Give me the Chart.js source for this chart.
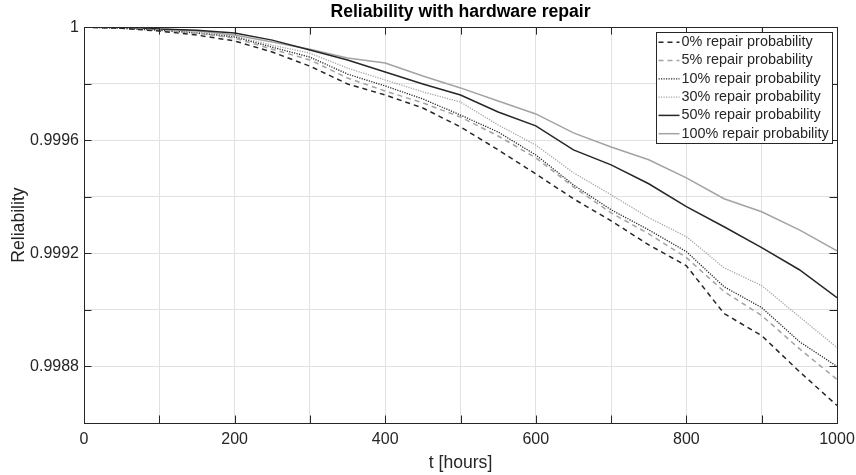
<!DOCTYPE html>
<html>
<head>
<meta charset="utf-8">
<title>Reliability with hardware repair</title>
<script src="https://cdn.jsdelivr.net/npm/chart.js@4.4.1/dist/chart.umd.min.js"></script>
<style>
  html, body { margin: 0; padding: 0; background: #fff; }
</style>
</head>
<body>
<canvas id="relChart" width="856" height="475"></canvas>
<script>
// data, t in hours
var hours = [0, 50, 100, 150, 200, 250, 300, 350, 400, 450, 500, 550, 600, 650, 700, 750, 800, 850, 900, 950, 1000];

var repair0 = [1.000000, 0.999996, 0.999986, 0.999972, 0.999951, 0.999912, 0.999862, 0.999799, 0.999760, 0.999714, 0.999647,
               0.999566, 0.999481, 0.999393, 0.999315, 0.999230, 0.999156, 0.998987, 0.998909, 0.998782, 0.998662];
var repair5 = [1.000000, 0.999996, 0.999989, 0.999979, 0.999961, 0.999922, 0.999884, 0.999820, 0.999774, 0.999732, 0.999682,
               0.999615, 0.999538, 0.999435, 0.999343, 0.999269, 0.999185, 0.999065, 0.998980, 0.998863, 0.998754];
var repair10 = [1.000000, 0.999996, 0.999989, 0.999979, 0.999965, 0.999929, 0.999894, 0.999834, 0.999792, 0.999746, 0.999689,
                0.999629, 0.999548, 0.999442, 0.999354, 0.999283, 0.999206, 0.999082, 0.999008, 0.998888, 0.998800];
var repair30 = [1.000000, 0.999996, 0.999989, 0.999982, 0.999968, 0.999936, 0.999908, 0.999855, 0.999813, 0.999771, 0.999735,
                0.999654, 0.999583, 0.999485, 0.999407, 0.999326, 0.999259, 0.999149, 0.999086, 0.998976, 0.998867];
var repair50 = [1.000000, 1.000000, 0.999993, 0.999989, 0.999979, 0.999954, 0.999919, 0.999884, 0.999841, 0.999799, 0.999760,
                0.999700, 0.999651, 0.999566, 0.999513, 0.999446, 0.999365, 0.999294, 0.999220, 0.999142, 0.999043];
var repair100 = [1.000000, 1.000000, 0.999993, 0.999986, 0.999972, 0.999947, 0.999922, 0.999891, 0.999873, 0.999827, 0.999785,
                 0.999739, 0.999693, 0.999626, 0.999576, 0.999531, 0.999467, 0.999393, 0.999347, 0.999283, 0.999209];

var seriesNames = ["0% repair probability", "5% repair probability", "10% repair probability",
                   "30% repair probability", "50% repair probability", "100% repair probability"];

var xTickLabels = [0, 200, 400, 600, 800, 1000];
var yTickLabels = [1, 0.9996, 0.9992, 0.9988];

var dark = "#262626";
var light = "#a3a3a3";

Chart.defaults.font.family = "'Liberation Sans', Arial, Helvetica, sans-serif";
Chart.defaults.color = dark;

function toPoints(values){
    var pts = [];
    for (var i = 0; i < hours.length; i++) {
        pts.push({x: hours[i], y: values[i]});
    }
    return pts;
}

function makeSet(name, values, color, dash, width){
    return {
        label: name,
        data: toPoints(values),
        borderColor: color,
        borderDash: dash,
        borderWidth: width,
        pointRadius: 0,
        tension: 0,
        fill: false
    };
}

// matlab style box, inward ticks and legend
var axesBox = {
    id: "axesBox",
    afterDraw: function(chart){
        var ctx = chart.ctx;
        var a = chart.chartArea;
        var xs = chart.scales.x;
        var ys = chart.scales.y;
        var tl = 7.5;

        ctx.save();
        ctx.strokeStyle = dark;
        ctx.lineWidth = 1;
        ctx.setLineDash([]);
        ctx.beginPath();
        xs.ticks.forEach(function(t){
            var px = Math.round(xs.getPixelForValue(t.value)) + 0.5;
            ctx.moveTo(px, a.bottom); ctx.lineTo(px, a.bottom - tl);
            ctx.moveTo(px, a.top); ctx.lineTo(px, a.top + tl);
        });
        ys.ticks.forEach(function(t){
            var py = Math.round(ys.getPixelForValue(t.value)) + 0.5;
            ctx.moveTo(a.left, py); ctx.lineTo(a.left + tl, py);
            ctx.moveTo(a.right, py); ctx.lineTo(a.right - tl, py);
        });
        ctx.stroke();
        ctx.strokeRect(Math.round(a.left) + 0.5, Math.round(a.top) + 0.5,
                       Math.round(a.right - a.left), Math.round(a.bottom - a.top));

        // legend
        var bw = 176, bh = 111;
        var bx = Math.round(a.right) - 5 - bw + 0.5;
        var by = Math.round(a.top) + 5 + 0.5;
        ctx.fillStyle = "#fff";
        ctx.fillRect(bx, by, bw, bh);
        ctx.strokeStyle = dark;
        ctx.lineWidth = 1;
        ctx.strokeRect(bx, by, bw, bh);

        ctx.font = "14.4px 'Liberation Sans', Arial, Helvetica, sans-serif";
        ctx.textBaseline = "middle";
        ctx.textAlign = "left";
        chart.data.datasets.forEach(function(ds, i){
            var ry = by + 9.7 + i * 18.3;
            ctx.strokeStyle = ds.borderColor;
            ctx.lineWidth = ds.borderWidth;
            ctx.setLineDash(ds.borderDash);
            ctx.beginPath();
            ctx.moveTo(bx + 2, ry);
            ctx.lineTo(bx + 23, ry);
            ctx.stroke();
            ctx.setLineDash([]);
            ctx.fillStyle = dark;
            ctx.fillText(ds.label, bx + 25, ry);
        });
        ctx.restore();
    }
};

function hasTick(list, value){
    for (var i = 0; i < list.length; i++) {
        if (Math.abs(list[i] - value) < 1e-9) return list[i];
    }
    return null;
}

var relChart = new Chart(document.getElementById("relChart"), {
    type: "line",
    data: {
        datasets: [
            makeSet(seriesNames[0], repair0, dark, [5, 4], 1.5),
            makeSet(seriesNames[1], repair5, light, [5, 4], 1.5),
            makeSet(seriesNames[2], repair10, dark, [1.2, 1.3], 1.3),
            makeSet(seriesNames[3], repair30, light, [1.2, 1.3], 1.3),
            makeSet(seriesNames[4], repair50, dark, [], 1.5),
            makeSet(seriesNames[5], repair100, light, [], 1.5)
        ]
    },
    options: {
        responsive: false,
        animation: false,
        layout: { padding: { left: 0, right: 19, top: 0, bottom: 0 } },
        plugins: {
            legend: { display: false },
            tooltip: { enabled: false },
            title: {
                display: true,
                text: "Reliability with hardware repair",
                fullSize: false,
                color: "#000",
                font: { size: 17.6, weight: "bold" },
                padding: { top: 1.5, bottom: 4.5 }
            }
        },
        scales: {
            x: {
                type: "linear",
                min: 0,
                max: 1000,
                border: { display: false },
                grid: { color: "#e1e1e1", drawTicks: false },
                ticks: {
                    stepSize: 100,
                    autoSkip: false,
                    maxRotation: 0,
                    padding: 7,
                    color: dark,
                    font: { size: 16 },
                    callback: function(value){
                        var v = hasTick(xTickLabels, value);
                        return v === null ? "" : String(v);
                    }
                },
                title: {
                    display: true,
                    text: "t [hours]",
                    color: dark,
                    font: { size: 17.6 },
                    padding: { top: 0, bottom: 1.5 }
                },
                afterFit: function(scale){
                    scale.height = 52;
                    scale.paddingLeft = 0;
                    scale.paddingRight = 0;
                }
            },
            y: {
                type: "linear",
                min: 0.9986,
                max: 1,
                border: { display: false },
                grid: { color: "#e1e1e1", drawTicks: false },
                ticks: {
                    stepSize: 0.0002,
                    autoSkip: false,
                    padding: 5,
                    color: dark,
                    font: { size: 16 },
                    callback: function(value){
                        var v = hasTick(yTickLabels, value);
                        if (v === null) return "";
                        return v === 1 ? "1" : v.toFixed(4);
                    }
                },
                title: {
                    display: true,
                    text: "Reliability",
                    color: dark,
                    font: { size: 17.6 },
                    padding: { top: 8.5, bottom: 0 }
                },
                afterFit: function(scale){
                    scale.width = 84;
                    scale.paddingTop = 0;
                    scale.paddingBottom = 0;
                }
            }
        }
    },
    plugins: [axesBox]
});
</script>
</body>
</html>
